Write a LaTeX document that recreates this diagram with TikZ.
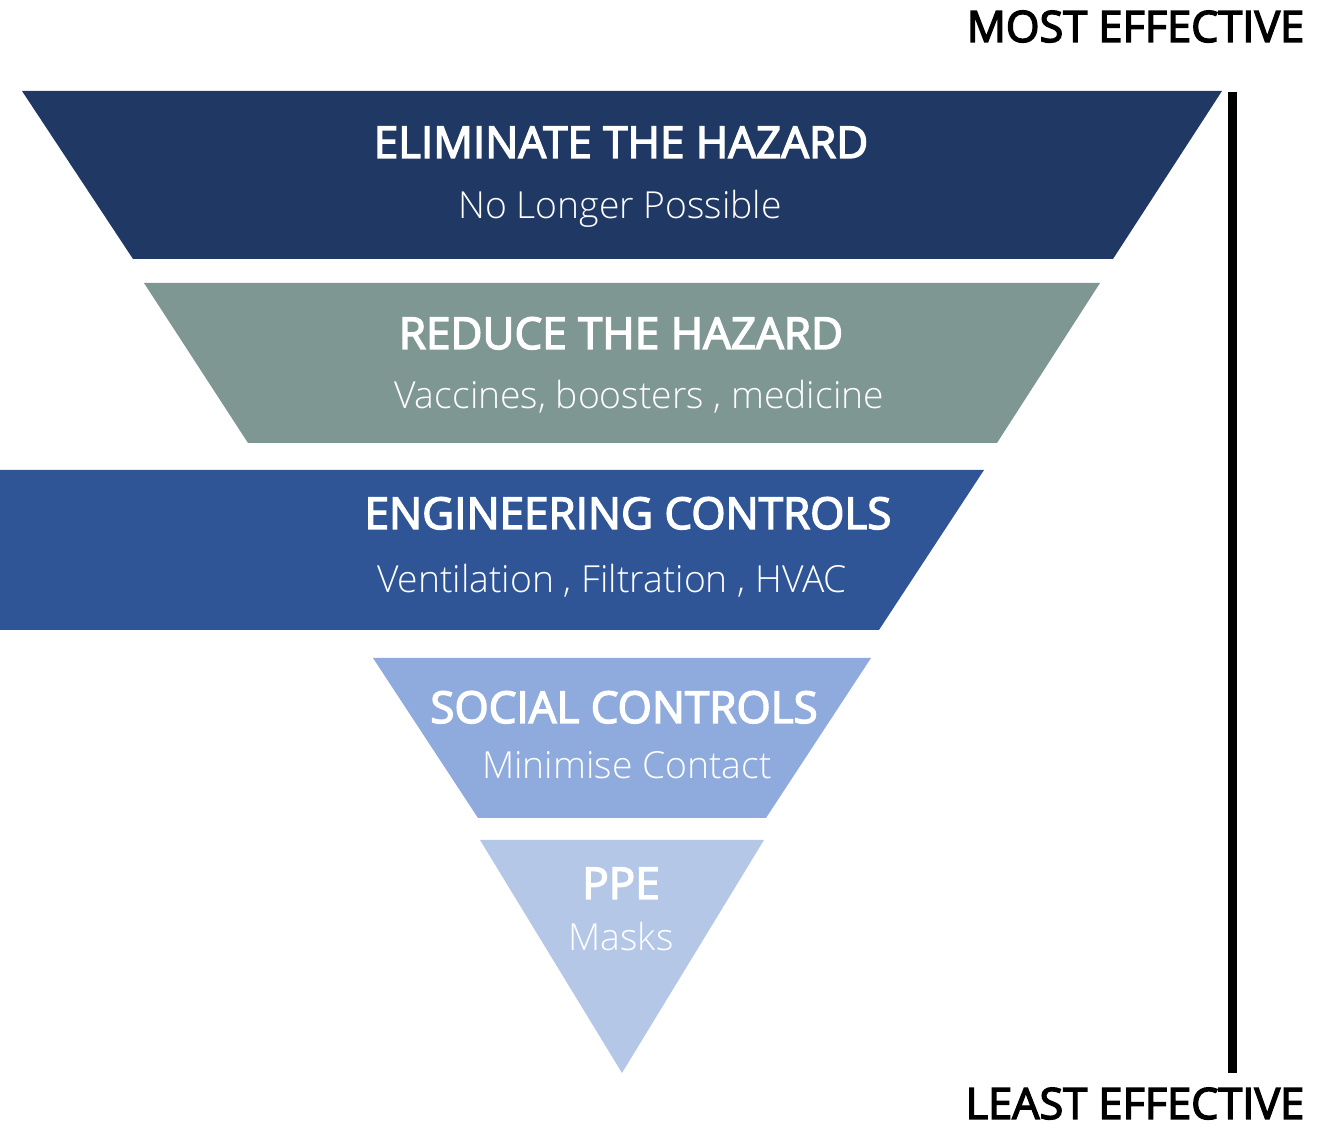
\documentclass[tikz,border=0pt]{standalone}
\usepackage{fontspec}
\setmainfont{Open Sans}
\newfontfamily\lightfont{Open Sans Light}
\newfontfamily\semifont[FakeBold=3.2]{Open Sans}
\definecolor{navy}{HTML}{203864}
\definecolor{sage}{HTML}{7F9792}
\definecolor{midblue}{HTML}{2F5597}
\definecolor{softblue}{HTML}{8FAADC}
\definecolor{paleblue}{HTML}{B4C7E7}
\tikzset{
  title/.style={text=white, font=\semifont\fontsize{12.5}{14}\selectfont, anchor=base, inner sep=0pt},
  sub/.style={text=white, font=\lightfont\fontsize{10.6}{13}\selectfont, anchor=base, inner sep=0pt},
  side/.style={text=black, font=\semifont\fontsize{12.3}{14}\selectfont, anchor=base east, inner sep=0pt},
}
\begin{document}
\begin{tikzpicture}[x=0.01cm, y=-0.01cm]
\useasboundingbox (0,0) rectangle (1317,1125);
% layers
\fill[navy] (22,91) -- (1222,91) -- (1113,259) -- (133,259) -- cycle;
\fill[sage] (144,283) -- (1100,283) -- (997,443) -- (248,443) -- cycle;
\fill[midblue] (0,470) -- (984,470) -- (879,630) -- (0,630) -- cycle;
\fill[softblue] (373,658) -- (871,658) -- (766,818) -- (478,818) -- cycle;
\fill[paleblue] (480,840) -- (764,840) -- (622,1073) -- cycle;
% texts
\node[title] (t1) at (621,158) {ELIMINATE THE HAZARD};
\node[sub] (s1) at (620,219) {No Longer Possible};
\node[title] (t2) at (621,349) {REDUCE THE HAZARD};
\node[sub] (s2) at (639,409) {Vaccines, boosters , medicine};
\node[title] (t3) at (628,529) {ENGINEERING CONTROLS};
\node[sub] (s3) at (612,593) {Ventilation , Filtration , HVAC};
\node[title] (t4) at (624,723) {SOCIAL CONTROLS};
\node[sub] (s4) at (627,779) {Minimise Contact};
\node[title] (t5) at (621,899) {PPE};
\node[sub] (s5) at (621,951) {Masks};
% effectiveness scale
\coordinate (bartop) at (1232,92);
\coordinate (barbot) at (1232,1073);
\draw[line width=2.56pt] (bartop) -- (barbot);
\node[side] (most) at (1305,42) {MOST EFFECTIVE};
\node[side] (least) at (1305,1119) {LEAST EFFECTIVE};
\end{tikzpicture}
\end{document}
